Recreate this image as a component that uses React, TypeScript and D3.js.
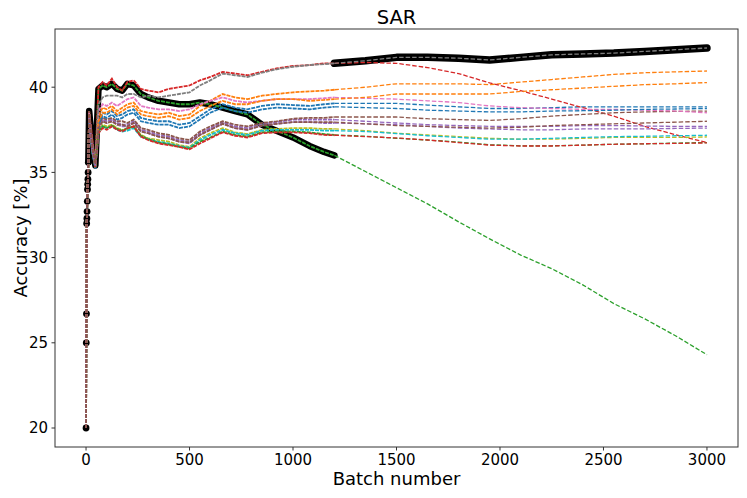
import React from 'react';
import * as d3 from 'd3';

const W = 747;
const H = 498;
const margin = { top: 29, right: 9, bottom: 51, left: 55 };

// shared first batches (all runs start identically)
const startBatches = [0, 1, 2, 3, 4, 5, 6, 7, 8, 9, 10, 11];
const startAcc = [20, 25, 26.7, 32, 32.3, 32.7, 33.3, 34, 34.3, 34.6, 35, 35.6];

// batches sampled in the first phase and after the switch
const earlyBatches = [15, 30, 45, 60, 80, 100, 125, 150, 175, 200, 230, 265, 300, 350, 400, 450, 500, 550, 600, 660, 720, 780, 850, 920, 1000, 1080, 1150, 1200];
const lateBatches = [1350, 1500, 1650, 1800, 1950, 2100, 2250, 2400, 2550, 2700, 2850, 3000];

const switchBatch = 1200;
const bestEarly = 2; // run followed by the markers up to the switch
const bestLate = 7; // run followed after the switch

const colors = ['#1f77b4', '#ff7f0e', '#2ca02c', '#d62728', '#9467bd', '#8c564b', '#e377c2', '#7f7f7f', '#bcbd22', '#17becf'];

const run0 = [38.2, 36.3, 35.3, 38.0, 38.5, 38.4, 38.6, 38.3, 38.4, 38.6, 38.7, 38.2, 38.1, 38.0, 38.0, 37.8, 37.9, 38.3, 38.7, 39.0, 38.8, 38.7, 38.9, 39.0, 38.95, 38.9, 39.0, 39.05,
  39.05, 39.05, 38.95, 38.85, 38.75, 38.75, 38.8, 38.85, 38.85, 38.85, 38.85, 38.85];
const run1 = [38.5, 36.5, 35.5, 38.3, 38.8, 38.7, 38.9, 38.6, 38.8, 39.0, 39.1, 38.6, 38.5, 38.4, 38.5, 38.3, 38.4, 38.9, 39.2, 39.6, 39.4, 39.3, 39.5, 39.6, 39.7, 39.75, 39.8, 39.85,
  40.0, 40.2, 40.2, 40.2, 40.15, 40.3, 40.45, 40.6, 40.75, 40.85, 40.9, 40.95];
const run2 = [38.6, 36.6, 35.4, 39.9, 40.1, 40.0, 40.2, 39.9, 39.8, 40.2, 40.1, 39.6, 39.4, 39.2, 39.1, 39.0, 39.0, 39.1, 39.0, 38.8, 38.6, 38.4, 37.8, 37.45, 37.05, 36.55, 36.2, 36.0,
  35.05, 34.1, 33.15, 32.1, 31.1, 30.15, 29.35, 28.4, 27.3, 26.4, 25.4, 24.3];
const run3 = [38.6, 37.0, 35.5, 40.0, 40.3, 40.1, 40.5, 40.0, 39.8, 40.3, 40.4, 39.9, 39.8, 39.7, 39.9, 40.0, 40.1, 40.4, 40.6, 40.9, 40.8, 40.7, 40.9, 41.1, 41.25, 41.3, 41.4, 41.4,
  41.45, 41.4, 41.15, 40.8, 40.25, 39.8, 39.3, 38.8, 38.3, 37.7, 37.2, 36.75];
const run4 = [38.3, 36.3, 35.4, 37.7, 38.1, 38.0, 38.1, 37.9, 37.8, 37.8, 38.0, 37.5, 37.4, 37.2, 37.1, 36.9, 36.8, 37.3, 37.6, 37.95, 37.7, 37.6, 37.85, 37.95, 38.1, 38.1, 38.1, 38.1,
  38.0, 37.9, 37.8, 37.75, 37.7, 37.7, 37.7, 37.75, 37.75, 37.72, 37.7, 37.7];
const run5 = [38.5, 36.4, 35.5, 37.8, 38.2, 38.1, 38.2, 38.0, 38.0, 37.9, 38.1, 37.6, 37.5, 37.3, 37.2, 37.0, 36.9, 37.4, 37.7, 38.0, 37.8, 37.7, 37.9, 38.0, 38.15, 38.2, 38.2, 38.25,
  38.25, 38.25, 38.15, 38.1, 38.05, 38.15, 38.3, 38.4, 38.5, 38.55, 38.58, 38.6];
const run6 = [38.5, 36.6, 35.5, 38.6, 39.0, 38.9, 39.1, 38.9, 39.1, 39.3, 39.4, 38.9, 38.8, 38.7, 38.7, 38.6, 38.7, 39.0, 39.2, 39.4, 39.2, 39.1, 39.2, 39.3, 39.3, 39.3, 39.35, 39.4,
  39.35, 39.3, 39.2, 39.1, 38.9, 38.8, 38.75, 38.7, 38.7, 38.65, 38.6, 38.5];
const run7 = [38.4, 36.8, 35.6, 39.0, 39.4, 39.5, 39.5, 39.5, 39.4, 39.6, 39.6, 39.4, 39.5, 39.4, 39.5, 39.6, 39.7, 40.1, 40.4, 40.8, 40.7, 40.6, 40.85, 41.05, 41.2, 41.3, 41.35, 41.4,
  41.55, 41.75, 41.75, 41.7, 41.6, 41.75, 41.9, 41.95, 42.0, 42.1, 42.2, 42.3];
const run8 = [38.2, 36.2, 35.3, 37.4, 37.8, 37.7, 37.8, 37.6, 37.5, 37.5, 37.7, 37.2, 37.0, 36.9, 36.8, 36.6, 36.5, 37.0, 37.3, 37.6, 37.35, 37.25, 37.5, 37.55, 37.6, 37.6, 37.55, 37.55,
  37.45, 37.3, 37.2, 37.1, 37.0, 36.95, 36.95, 37.0, 37.05, 37.05, 37.05, 37.08];
const run9 = [38.1, 36.2, 35.3, 37.3, 37.7, 37.6, 37.7, 37.5, 37.4, 37.45, 37.6, 37.1, 36.95, 36.8, 36.7, 36.55, 36.45, 36.9, 37.2, 37.5, 37.3, 37.2, 37.45, 37.5, 37.5, 37.5, 37.45, 37.45,
  37.4, 37.28, 37.15, 37.05, 36.95, 36.95, 37.0, 37.05, 37.1, 37.12, 37.15, 37.18];
const run10 = [38.0, 36.2, 35.2, 37.8, 38.3, 38.2, 38.4, 38.1, 38.2, 38.4, 38.5, 38.0, 37.9, 37.8, 37.8, 37.6, 37.7, 38.1, 38.5, 38.8, 38.6, 38.5, 38.7, 38.8, 38.75, 38.7, 38.8, 38.85,
  38.8, 38.75, 38.65, 38.6, 38.55, 38.55, 38.6, 38.62, 38.65, 38.7, 38.72, 38.75];
const run11 = [38.3, 36.4, 35.4, 38.0, 38.5, 38.5, 38.7, 38.4, 38.6, 38.8, 38.9, 38.4, 38.3, 38.2, 38.3, 38.1, 38.2, 38.6, 38.9, 39.2, 39.0, 39.0, 39.2, 39.3, 39.3, 39.2, 39.25, 39.3,
  39.4, 39.6, 39.6, 39.6, 39.6, 39.75, 39.85, 39.95, 40.05, 40.15, 40.2, 40.27];
const run12 = [38.3, 36.3, 35.3, 37.4, 37.7, 37.6, 37.75, 37.55, 37.45, 37.6, 37.7, 37.15, 36.95, 36.75, 36.65, 36.5, 36.4, 36.8, 37.05, 37.4, 37.2, 37.1, 37.35, 37.4, 37.4, 37.35, 37.25, 37.2,
  37.12, 37.0, 36.9, 36.78, 36.62, 36.56, 36.56, 36.6, 36.65, 36.68, 36.72, 36.75];
const run13 = [38.4, 36.4, 35.3, 37.3, 37.6, 37.5, 37.7, 37.5, 37.4, 37.6, 37.7, 37.1, 36.9, 36.7, 36.6, 36.5, 36.35, 36.7, 37.0, 37.35, 37.15, 37.05, 37.3, 37.35, 37.35, 37.3, 37.2, 37.18,
  37.1, 37.02, 36.9, 36.75, 36.6, 36.55, 36.55, 36.6, 36.65, 36.68, 36.7, 36.73];
const run14 = [38.2, 36.3, 35.4, 37.6, 38.0, 37.9, 38.0, 37.8, 37.7, 37.7, 37.9, 37.4, 37.3, 37.1, 37.0, 36.8, 36.7, 37.2, 37.5, 37.85, 37.6, 37.5, 37.75, 37.85, 37.95, 37.95, 37.9, 37.9,
  37.85, 37.8, 37.7, 37.6, 37.55, 37.5, 37.5, 37.55, 37.55, 37.55, 37.58, 37.6];
const run15 = [38.6, 36.5, 35.5, 37.6, 38.0, 37.9, 38.0, 37.8, 37.8, 37.7, 37.9, 37.4, 37.3, 37.1, 37.0, 36.8, 36.75, 37.2, 37.5, 37.85, 37.6, 37.5, 37.75, 37.85, 37.95, 37.95, 37.95, 37.95,
  37.85, 37.75, 37.7, 37.65, 37.6, 37.65, 37.75, 37.8, 37.85, 37.9, 37.95, 38.0];

const runs = [run0, run1, run2, run3, run4, run5, run6, run7, run8, run9, run10, run11, run12, run13, run14, run15];

const xTicks = [0, 500, 1000, 1500, 2000, 2500, 3000];
const yTicks = [20, 25, 30, 35, 40];

type Pt = [number, number];

const allBatches = [...startBatches, ...earlyBatches, ...lateBatches];
const toPoints = (vals: number[]): Pt[] => allBatches.map((b, i) => [b, i < startAcc.length ? startAcc[i] : vals[i - startAcc.length]]);

export default function App() {
  const x = d3.scaleLinear().domain([-150, 3150]).range([margin.left, W - margin.right]);
  const y = d3.scaleLinear().domain([18.885, 43.415]).range([H - margin.bottom, margin.top]);
  const line = d3.line<Pt>().x((d) => x(d[0])).y((d) => y(d[1]));

  const series = runs.map(toPoints);
  // the chosen run: one model until the switch, another one after it
  const bestFirst = series[bestEarly].filter((d) => d[0] <= switchBatch);
  const bestSecond = series[bestLate].filter((d) => d[0] >= switchBatch);
  const dotPts = bestFirst.filter((d) => d[0] <= startBatches[startBatches.length - 1]);
  const bandFirst = bestFirst.filter((d) => d[0] >= startBatches[startBatches.length - 1]);

  const left = margin.left;
  const right = W - margin.right;
  const top = margin.top;
  const bottom = H - margin.bottom;
  const font = 'DejaVu Sans, sans-serif';

  return (
    <svg width={W} height={H} style={{ position: 'absolute', left: 0, top: 0, background: '#fff' }} fontFamily={font}>
      <rect x={0} y={0} width={W} height={H} fill='#fff' />
      <defs>
        <clipPath id='plot'>
          <rect x={left} y={top} width={right - left} height={bottom - top} />
        </clipPath>
      </defs>

      <g clipPath='url(#plot)'>
        {/* markers of the chosen run */}
        <path d={line(bandFirst) ?? ''} fill='none' stroke='#000' strokeWidth={6.5} strokeLinejoin='round' strokeLinecap='round' />
        <path d={line(bestSecond) ?? ''} fill='none' stroke='#000' strokeWidth={7.5} strokeLinejoin='round' strokeLinecap='round' />
        {dotPts.map((d, i) => (
          <circle key={i} cx={x(d[0])} cy={y(d[1])} r={3.4} fill='#000' />
        ))}

        {series.map((pts, i) => {
          const early = pts.filter((d) => d[0] <= switchBatch);
          const late = pts.filter((d) => d[0] >= switchBatch);
          const c = colors[i % colors.length];
          return (
            <g key={i}>
              <path d={line(early) ?? ''} fill='none' stroke={c} strokeWidth={1.8} strokeDasharray='4 1' />
              <path d={line(late) ?? ''} fill='none' stroke={c} strokeWidth={1.3} strokeDasharray='4.5 2' />
            </g>
          );
        })}
      </g>

      {/* frame */}
      <rect x={left} y={top} width={right - left} height={bottom - top} fill='none' stroke='#333' strokeWidth={1} />

      {/* x axis */}
      {xTicks.map((t) => (
        <g key={t} transform={`translate(${x(t)},${bottom})`}>
          <line y2={3.5} stroke='#333' strokeWidth={1} />
          <text y={17.5} textAnchor='middle' fontSize={15} fill='#000'>
            {t}
          </text>
        </g>
      ))}

      {/* y axis */}
      {yTicks.map((t) => (
        <g key={t} transform={`translate(${left},${y(t)})`}>
          <line x2={-3.5} stroke='#333' strokeWidth={1} />
          <text x={-7} dy='0.36em' textAnchor='end' fontSize={15} fill='#000'>
            {t}
          </text>
        </g>
      ))}

      <text x={(left + right) / 2} y={24} textAnchor='middle' fontSize={19.5} fill='#000'>
        SAR
      </text>
      <text x={(left + right) / 2} y={485} textAnchor='middle' fontSize={18} fill='#000'>
        Batch number
      </text>
      <text transform={`translate(27,${(top + bottom) / 2}) rotate(-90)`} textAnchor='middle' fontSize={18} fill='#000'>
        Accuracy [%]
      </text>
    </svg>
  );
}
